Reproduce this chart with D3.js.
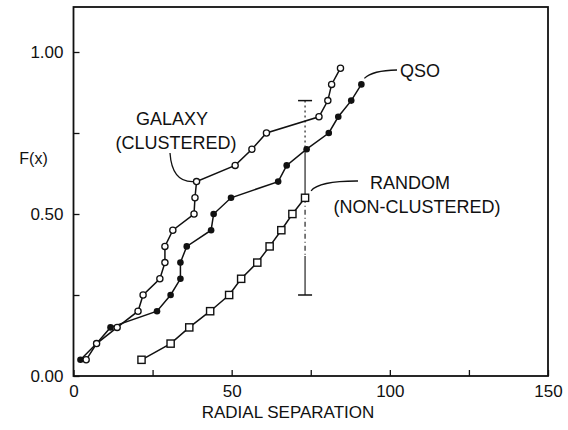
<!DOCTYPE html>
<html>
<head>
<meta charset="utf-8">
<script src="https://cdn.jsdelivr.net/npm/d3@7"></script>
<style>
  html, body { margin: 0; padding: 0; background: #fff; }
  svg { display: block; }
  text { font-family: "Liberation Sans", Arial, Helvetica, sans-serif; fill: #111; }
</style>
</head>
<body>
<svg id="chart" width="568" height="430"></svg>
<script>
// Cumulative fraction F(x) for each sample, stepping in 0.05
const galaxyX = [4, 7.3, 13.8, 20.4, 22.0, 27.3, 28.9, 28.9, 31.4, 38.1, 38.4, 38.9, 51.1, 56.4, 61.0, 77.6, 80.4, 81.6, 84.4];
const galaxyF = [0.05, 0.10, 0.15, 0.20, 0.25, 0.30, 0.35, 0.40, 0.45, 0.50, 0.55, 0.60, 0.65, 0.70, 0.75, 0.80, 0.85, 0.90, 0.95];

const qsoX = [2.2, 7.3, 11.7, 26.4, 30.7, 33.8, 33.8, 35.8, 43.5, 44.3, 49.8, 64.7, 67.4, 73.7, 80.7, 83.7, 87.8, 91.0];
const qsoF = [0.05, 0.10, 0.15, 0.20, 0.25, 0.30, 0.35, 0.40, 0.45, 0.50, 0.55, 0.60, 0.65, 0.70, 0.75, 0.80, 0.85, 0.90];

const randomX = [21.5, 30.7, 36.6, 43.2, 49.2, 53.0, 58.1, 62.0, 65.7, 69.2, 73.2];
const randomF = [0.05, 0.10, 0.15, 0.20, 0.25, 0.30, 0.35, 0.40, 0.45, 0.50, 0.55];

// Error bar on the last random point
const errX = 73.2;
const errCenter = 0.55;
const errHalf = 0.30;

const xMajorTicks = [0, 50, 100, 150];
const xMinorTicks = [25, 75, 125];
const yMajorTicks = [0, 0.5, 1.0];
const yMinorTicks = [0.25, 0.75];
const yTickLabels = ["0.00", "0.50", "1.00"];

const svg = d3.select("#chart");
const x = d3.scaleLinear().domain([0, 150]).range([73.5, 548]);
const y = d3.scaleLinear().domain([0, 1]).range([376, 52]);
const frameTop = 7;

const ink = "#111";

// Frame
svg.append("rect")
  .attr("x", x(0)).attr("y", frameTop)
  .attr("width", x(150) - x(0)).attr("height", y(0) - frameTop)
  .attr("fill", "none").attr("stroke", ink).attr("stroke-width", 1.8);

// Axes with inward ticks
svg.append("g").attr("transform", `translate(0,${y(0)})`)
  .call(d3.axisBottom(x).tickValues(xMajorTicks).tickSizeInner(-6).tickSizeOuter(0).tickPadding(9).tickFormat(d3.format("d")));
svg.append("g").attr("transform", `translate(0,${y(0)})`)
  .call(d3.axisBottom(x).tickValues(xMinorTicks).tickSizeInner(-6).tickSizeOuter(0).tickFormat(""));
svg.append("g").attr("transform", `translate(${x(0)},0)`)
  .call(d3.axisLeft(y).tickValues(yMajorTicks).tickSizeInner(-6).tickSizeOuter(0).tickPadding(10)
    .tickFormat((d, i) => yTickLabels[i]));
svg.append("g").attr("transform", `translate(${x(0)},0)`)
  .call(d3.axisLeft(y).tickValues(yMinorTicks).tickSizeInner(-6).tickSizeOuter(0).tickFormat(""));

svg.selectAll(".domain").remove();
svg.selectAll(".tick line").attr("stroke", ink).attr("stroke-width", 1.3);
svg.selectAll(".tick text").attr("font-size", 17).attr("fill", ink)
  .style("font-family", '"Liberation Sans", Arial, sans-serif');

// Axis titles
svg.append("text").attr("x", x(0) - 40).attr("y", 164).attr("text-anchor", "middle")
  .attr("font-size", 16).text("F(x)");
svg.append("text").attr("x", 288).attr("y", 418).attr("text-anchor", "middle")
  .attr("font-size", 17).text("RADIAL SEPARATION");

// Error bar
const errSegments = [
  { a: errCenter + errHalf, b: 0.70, dash: "2,3" },
  { a: 0.70, b: errCenter, dash: null },
  { a: errCenter, b: 0.37, dash: "5,3,1,3" },
  { a: 0.37, b: errCenter - errHalf, dash: null }
];
const eg = svg.append("g").attr("stroke", ink).attr("stroke-width", 1.1);
errSegments.forEach(s => {
  eg.append("line").attr("x1", x(errX)).attr("x2", x(errX))
    .attr("y1", y(s.a)).attr("y2", y(s.b))
    .attr("stroke-dasharray", s.dash);
});
[errCenter + errHalf, errCenter - errHalf].forEach(v => {
  eg.append("line").attr("x1", x(errX) - 7).attr("x2", x(errX) + 7)
    .attr("y1", y(v)).attr("y2", y(v)).attr("stroke-width", 1.5);
});

const line = d3.line().x(d => x(d[0])).y(d => y(d[1]));
function series(xs, fs) { return xs.map((v, i) => [v, fs[i]]); }

const galaxy = series(galaxyX, galaxyF);
const qso = series(qsoX, qsoF);
const random = series(randomX, randomF);

[random, galaxy, qso].forEach(s => {
  svg.append("path").datum(s).attr("d", line)
    .attr("fill", "none").attr("stroke", ink).attr("stroke-width", 1.5);
});

// Markers
svg.append("g").selectAll("rect").data(random).join("rect")
  .attr("x", d => x(d[0]) - 3.6).attr("y", d => y(d[1]) - 3.6)
  .attr("width", 7.2).attr("height", 7.2)
  .attr("fill", "#fff").attr("stroke", ink).attr("stroke-width", 1.4);
svg.append("g").selectAll("circle").data(qso).join("circle")
  .attr("cx", d => x(d[0])).attr("cy", d => y(d[1])).attr("r", 3.3)
  .attr("fill", ink);
svg.append("g").selectAll("circle").data(galaxy).join("circle")
  .attr("cx", d => x(d[0])).attr("cy", d => y(d[1])).attr("r", 3.1)
  .attr("fill", "#fff").attr("stroke", ink).attr("stroke-width", 1.3);

// Annotations
const ann = svg.append("g").attr("fill", "none").attr("stroke", ink).attr("stroke-width", 1.3);

// GALAXY leader to the F = 0.60 point
const gp = galaxy[11];
ann.append("path").attr("d", `M170,153 Q172,${y(gp[1]) + 1} ${x(gp[0]) - 3},${y(gp[1])}`);
svg.append("text").attr("x", 172).attr("y", 125).attr("text-anchor", "middle").attr("font-size", 18).text("GALAXY");
svg.append("text").attr("x", 176).attr("y", 149).attr("text-anchor", "middle").attr("font-size", 18).text("(CLUSTERED)");

// QSO leader from just past the last QSO point
const qp = qso[qso.length - 1];
ann.append("path").attr("d", `M${x(qp[0]) + 3},${y(qp[1]) - 6} Q${x(qp[0]) + 11},${y(qp[1]) - 14} 397,70`);
svg.append("text").attr("x", 400).attr("y", 77).attr("font-size", 18).text("QSO");

// RANDOM leader from the last random point
const rp = random[random.length - 1];
ann.append("path").attr("d", `M${x(rp[0]) + 6},${y(rp[1]) - 7} Q${x(rp[0]) + 14},${y(rp[1]) - 17} 358,181`);
svg.append("text").attr("x", 410).attr("y", 189).attr("text-anchor", "middle").attr("font-size", 18).text("RANDOM");
svg.append("text").attr("x", 417).attr("y", 213).attr("text-anchor", "middle").attr("font-size", 18).text("(NON-CLUSTERED)");
</script>
</body>
</html>
